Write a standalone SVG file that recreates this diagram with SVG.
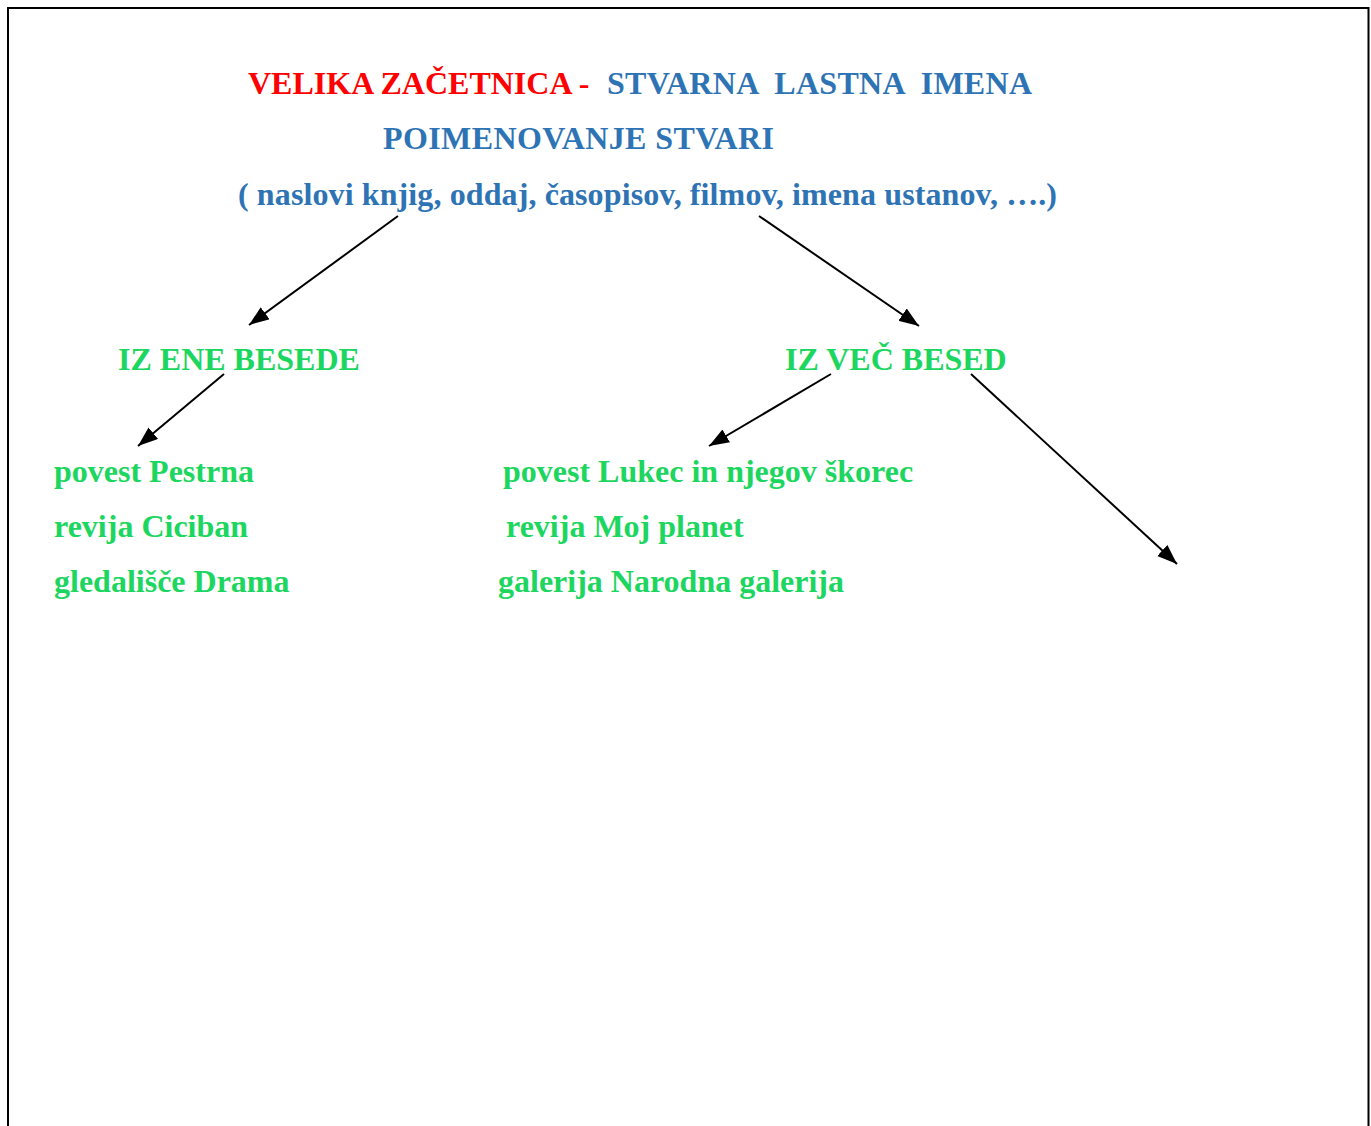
<svg xmlns="http://www.w3.org/2000/svg" width="1371" height="1126" viewBox="0 0 1371 1126">
<style>
text{font-family:"Liberation Serif","Times New Roman",serif;font-weight:bold;font-size:32px;white-space:pre}
.r{fill:#FF0000}
.b{fill:#2E74B5}
.g{fill:#1CD660}
.c{stroke:#000;stroke-width:2;fill:none;marker-end:url(#ah)}
</style>
<defs>
<marker id="ah" markerUnits="userSpaceOnUse" markerWidth="22" markerHeight="16" refX="20" refY="7.5" orient="auto">
<path d="M0,0 L20,7.5 L0,15 Z" fill="#000"/>
</marker>
</defs>
<rect width="1371" height="1126" fill="#fff"/>
<path d="M8,1126 V8 H1368.5 V1126" fill="none" stroke="#000" stroke-width="2"/>
<g id="title">
<text x="248" y="94" class="r">VELIKA ZAČETNICA - </text>
<text x="607" y="94" class="b" textLength="425" lengthAdjust="spacing">STVARNA  LASTNA  IMENA</text>
<text class="b" x="383" y="149" textLength="391" lengthAdjust="spacing">POIMENOVANJE STVARI</text>
<text class="b" x="238" y="205" textLength="819" lengthAdjust="spacing">( naslovi knjig, oddaj, časopisov, filmov, imena ustanov, ….)</text>
</g>
<g id="ene">
<text class="g" x="118" y="370">IZ ENE BESEDE</text>
</g>
<g id="vec">
<text class="g" x="785" y="370">IZ VEČ BESED</text>
</g>
<g id="list-ene">
<text class="g" x="54" y="482">povest Pestrna</text>
<text class="g" x="54" y="537">revija Ciciban</text>
<text class="g" x="54" y="592">gledališče Drama</text>
</g>
<g id="list-vec">
<text class="g" x="503" y="482">povest Lukec in njegov škorec</text>
<text class="g" x="506" y="537">revija Moj planet</text>
<text class="g" x="498" y="592">galerija Narodna galerija</text>
</g>
<g id="connectors">
<line class="c" x1="398" y1="216" x2="249" y2="325"/>
<line class="c" x1="759" y1="216" x2="919" y2="326"/>
<line class="c" x1="224" y1="374" x2="138" y2="446"/>
<line class="c" x1="831" y1="374" x2="709" y2="446"/>
<line class="c" x1="971" y1="374" x2="1177" y2="564"/>
</g>
</svg>
